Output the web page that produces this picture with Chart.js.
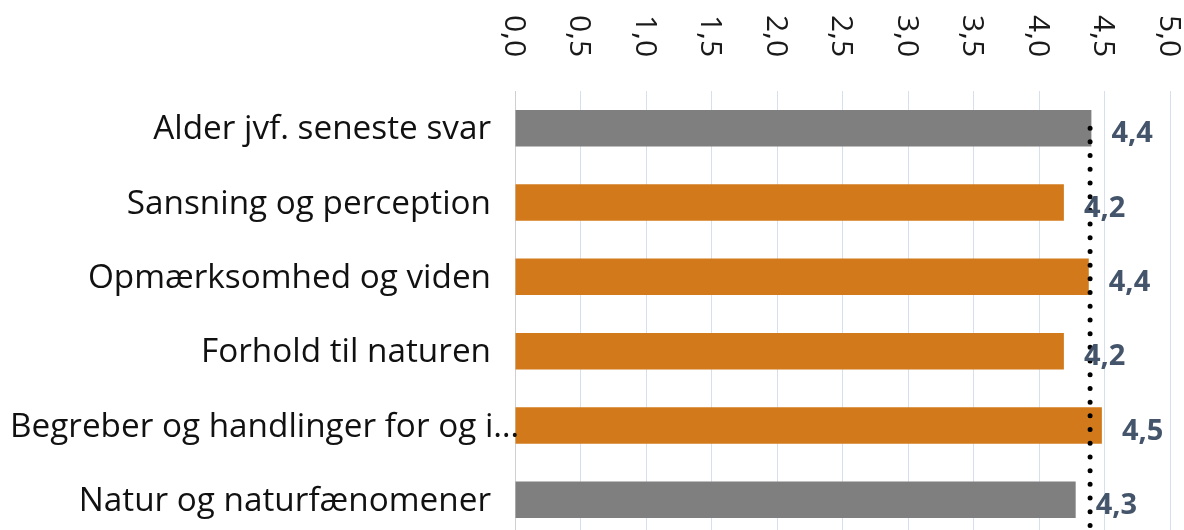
<!DOCTYPE html>
<html>
<head>
<meta charset="utf-8">
<script src="https://cdn.jsdelivr.net/npm/chart.js@4.4.1/dist/chart.umd.min.js"></script>
<style>
  html, body { margin: 0; padding: 0; background: #ffffff; overflow: hidden; }
  #wrap { width: 1184px; height: 540px; }
</style>
</head>
<body>
<div id="wrap"><canvas id="c" width="1184" height="540"></canvas></div>
<script>
// ---- data ----
const categories = [
  "Alder jvf. seneste svar",
  "Sansning og perception",
  "Opmærksomhed og viden",
  "Forhold til naturen",
  "Begreber og handlinger for og i…",
  "Natur og naturfænomener"
];
const scores = [4.40, 4.19, 4.38, 4.19, 4.48, 4.28];
const referenceValue = 4.39;
const tickValues = [0, 0.5, 1, 1.5, 2, 2.5, 3, 3.5, 4, 4.5, 5];
const tickLabels = ["0,0", "0,5", "1,0", "1,5", "2,0", "2,5", "3,0", "3,5", "4,0", "4,5", "5,0"];
const barGroup = ["grey", "orange", "orange", "orange", "orange", "grey"];

// ---- styles ----
const groupColors = { grey: "#7f7f7f", orange: "#d27a1b" };
const FONT = "'Open Sans', 'Noto Sans', sans-serif";

const fmt = v => v.toFixed(1).replace('.', ',');

const customDraw = {
  id: 'customDraw',
  afterDatasetsDraw(chart) {
    const ctx = chart.ctx;
    const xs = chart.scales.x, ys = chart.scales.y;
    const area = chart.chartArea;
    ctx.save();
    // reference dotted line
    ctx.beginPath();
    ctx.strokeStyle = '#000000';
    ctx.lineWidth = 5;
    ctx.lineCap = 'round';
    ctx.setLineDash([0, 13.7]);
    const rx = xs.getPixelForValue(referenceValue);
    ctx.moveTo(rx, ys.getPixelForValue(0));
    ctx.lineTo(rx, area.bottom + 10);
    ctx.stroke();
    ctx.setLineDash([]);
    // data labels
    ctx.fillStyle = '#44546a';
    ctx.font = "bold 29px " + FONT;
    ctx.textAlign = 'left';
    ctx.textBaseline = 'alphabetic';
    scores.forEach((v, i) => {
      const x = xs.getPixelForValue(v) + 20;
      const y = ys.getPixelForValue(i) + 14;
      ctx.fillText(fmt(v), x, y);
    });
    // category labels
    ctx.fillStyle = '#111111';
    ctx.font = "33.3px " + FONT;
    categories.forEach((c, i) => {
      const y = ys.getPixelForValue(i) + 11;
      if (c.endsWith('…')) {
        ctx.textAlign = 'left';
        ctx.fillText(c, 10, y);
      } else {
        ctx.textAlign = 'right';
        ctx.fillText(c, area.left - 24, y);
      }
    });
    // rotated x tick labels (top)
    ctx.fillStyle = '#1a1a1a';
    ctx.font = "30px " + FONT;
    ctx.textAlign = 'left';
    ctx.textBaseline = 'alphabetic';
    tickValues.forEach((t, i) => {
      const x = xs.getPixelForValue(t);
      ctx.save();
      ctx.translate(x - 10.5, 15);
      ctx.rotate(Math.PI / 2);
      ctx.fillText(tickLabels[i], 0, 0);
      ctx.restore();
    });
    ctx.restore();
  }
};

new Chart(document.getElementById('c'), {
  type: 'bar',
  data: {
    labels: categories,
    datasets: [{
      data: scores,
      backgroundColor: barGroup.map(g => groupColors[g]),
      borderWidth: 0,
      barPercentage: 0.49,
      categoryPercentage: 1.0
    }]
  },
  options: {
    indexAxis: 'y',
    responsive: false,
    animation: false,
    devicePixelRatio: 1,
    layout: { padding: { left: 0, right: 14, top: 0, bottom: 3 } },
    plugins: { legend: { display: false }, tooltip: { enabled: false } },
    scales: {
      x: {
        position: 'top',
        min: 0, max: 5,
        ticks: { display: false, stepSize: 0.5 },
        grid: { color: '#d6dfec', lineWidth: 1, drawTicks: false },
        border: { display: false },
        afterFit: s => { s.height = 91; }
      },
      y: {
        ticks: { display: false },
        grid: { display: false, drawTicks: false },
        border: { display: true, color: '#d0d0d0', width: 1 },
        afterFit: s => { s.width = 515; }
      }
    }
  },
  plugins: [customDraw]
});
</script>
</body>
</html>
